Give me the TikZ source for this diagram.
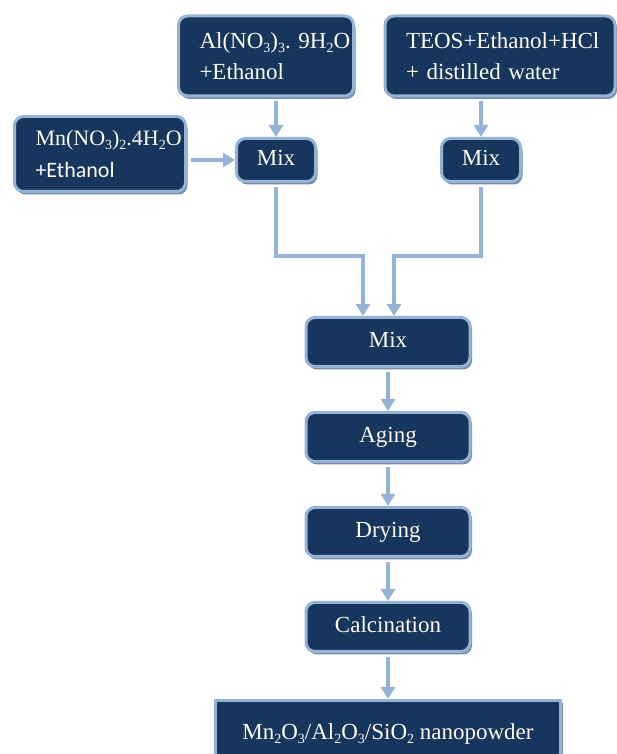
\documentclass[tikz,border=0pt]{standalone}
\usepackage{fontspec}
\setmainfont{Liberation Serif}
\newfontfamily\calibrifont{Carlito}
\usetikzlibrary{arrows.meta,positioning,shadows}
\definecolor{boxfill}{RGB}{23,54,93}
\definecolor{boxline}{RGB}{149,179,215}
\definecolor{arrowcol}{RGB}{149,179,215}
\definecolor{shadowcol}{RGB}{120,140,162}
\definecolor{textcol}{RGB}{252,250,242}
\newcommand{\chsub}[1]{\raisebox{-4pt}{\fontsize{14}{14}\selectfont #1}}

\begin{document}
\begin{tikzpicture}
[x=1pt, y=1pt, node distance=43pt, font=\fontsize{23}{31}\selectfont,
% STYLES
% The panel style gives every box its dark fill, light border and shadow
panel/.style={rectangle, rounded corners=9pt, draw=boxline, line width=3pt, fill=boxfill, text=textcol, inner sep=0pt,
  drop shadow={shadow xshift=2pt, shadow yshift=-3pt, fill=shadowcol, opacity=1}},
% The source style is used for the starting solutions (text starts 21pt from the left side)
source/.style={panel, align=left, minimum height=80pt, execute at begin node={\leftskip=21pt\relax}},
% The stepbox style is used for the steps of the process
stepbox/.style={panel, minimum width=164pt, minimum height=49pt, text height=16pt, text depth=5pt},
% The mixbox style is used for the two first mixing steps
mixbox/.style={panel, minimum width=79pt, minimum height=43pt, text height=16pt, text depth=5pt},
% The product style is used to draw the final powder
product/.style={panel, rounded corners=0pt, minimum width=345pt, minimum height=68pt, text height=16pt, text depth=5pt},
% The flow style is used for the arrows
flow/.style={draw=arrowcol, line width=3.5pt, -{Triangle[length=12pt,width=14pt]}, shorten <=4pt}]

\useasboundingbox (0,0) rectangle (617,754);
\clip (0,0) rectangle (617,754);

% Draw starting solutions
\node [source, text width=175pt] (alnit) at (266,698) {Al(NO\chsub{3})\chsub{3}.~9H\chsub{2}O\\+Ethanol};
\node [source, text width=230pt] (teos) at (500,698) {TEOS+Ethanol+HCl\\+ distilled water};
\node [source, text width=171pt, minimum height=75pt, font=\fontsize{22}{32}\selectfont] (mnnit) at (100,600) {Mn(NO\chsub{3})\chsub{2}.4H\chsub{2}O\\{\calibrifont +Ethanol}};

% First mixing
\node [mixbox] (mixa) at (276,594) {Mix};
\node [mixbox] (mixb) at (481,594) {Mix};

% Main line of the process
\node [stepbox] (mixc) at (388,412) {Mix};
\node [stepbox, below=of mixc] (aging) {Aging};
\node [stepbox, below=of aging] (drying) {Drying};
\node [stepbox, below=of drying] (calc) {Calcination};
\node [product, below=46pt of calc] (powder) {Mn\chsub{2}O\chsub{3}/Al\chsub{2}O\chsub{3}/SiO\chsub{2} nanopowder};

% Draw the links
\coordinate (merge) at (0,498);
\draw[flow] (alnit.south -| mixa.north) -- (mixa.north);
\draw[flow] (teos.south -| mixb.north) -- (mixb.north);
\draw[flow] (mnnit.east |- mixa.west) -- (mixa.west);
\draw[flow] (mixa.south) -- (mixa.south |- merge) -| ([xshift=-25pt]mixc.north);
\draw[flow] (mixb.south) -- (mixb.south |- merge) -| ([xshift=6pt]mixc.north);
\draw[flow] (mixc) -- (aging);
\draw[flow] (aging) -- (drying);
\draw[flow] (drying) -- (calc);
\draw[flow] (calc) -- (powder);

\end{tikzpicture}
\end{document}
